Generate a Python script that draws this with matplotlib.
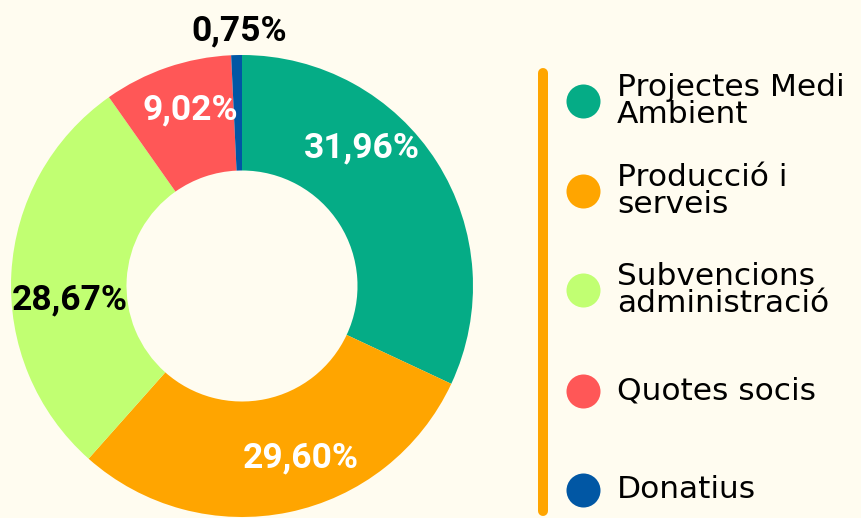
import matplotlib
matplotlib.use('Agg')
import matplotlib.pyplot as plt

# Dades
categories = ['Projectes Medi\nAmbient', 'Producció i\nserveis', 'Subvencions\nadministració',
              'Quotes socis', 'Donatius']
values = [31.96, 29.60, 28.67, 9.02, 0.75]
colors = ['#05AC86', '#FFA500', '#C1FF72', '#FF5757', '#0157A4']
label_colors = ['white', 'white', 'black', 'white', 'black']
# posició de les etiquetes (coordenades del pastís)
label_xy = [(0.519, 0.597), (0.255, -0.745), (-0.745, -0.061), (-0.225, 0.762), (-0.013, 1.104)]
legend_y = [101, 191, 290, 391, 490]

bg = '#FFFCF0'
W, H = 862, 518
fig = plt.figure(figsize=(W / 100, H / 100), dpi=100, facecolor=bg)

# Pastís
ax = fig.add_axes([11 / W, 1 / H, 462 / W, 462 / H])
ax.set_facecolor(bg)
ax.pie(values, colors=colors, startangle=90, counterclock=False, radius=1,
       wedgeprops=dict(width=0.5, linewidth=0))
ax.set_xlim(-1, 1)
ax.set_ylim(-1, 1)
ax.axis('off')

for v, (x, y), c in zip(values, label_xy, label_colors):
    txt = f'{v:.2f}%'.replace('.', ',')
    ax.text(x, y, txt, ha='center', va='center', fontsize=25.5, fontweight='bold',
            family='Roboto', color=c, clip_on=False)

# Llegenda
lax = fig.add_axes([0, 0, 1, 1])
lax.set_xlim(0, W)
lax.set_ylim(H, 0)
lax.axis('off')
lax.plot([543, 543], [73, 511], color='#FFA500', linewidth=7.2, solid_capstyle='round')
for cat, col, y in zip(categories, colors, legend_y):
    lax.scatter([583], [y], s=600, color=col, linewidths=0)
    lax.text(617, y, cat, ha='left', va='center', fontsize=22.5, color='black',
             family='DejaVu Sans', linespacing=0.95)

fig.savefig('out.png', dpi=100, facecolor=bg)
